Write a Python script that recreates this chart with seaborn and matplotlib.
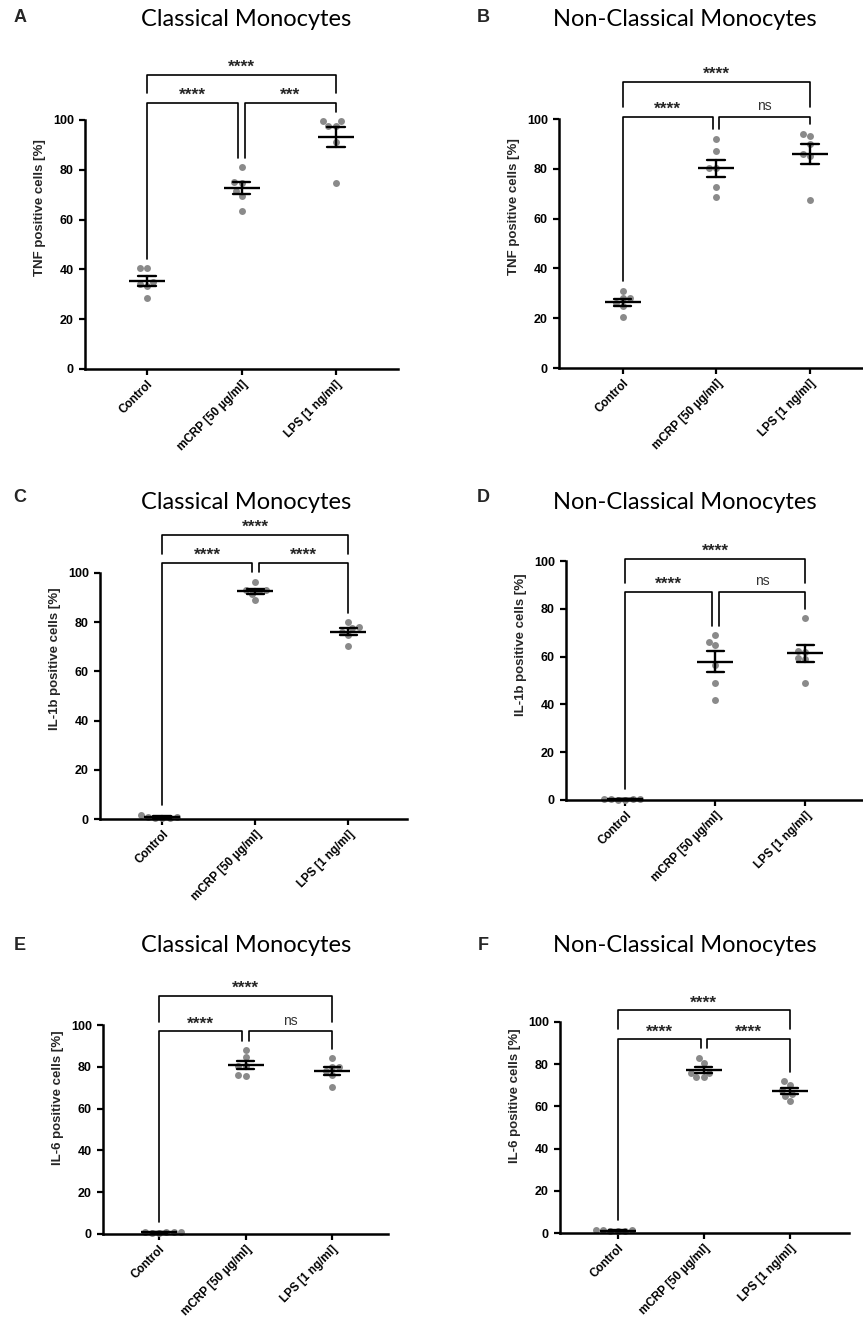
import matplotlib
matplotlib.use('Agg')
import matplotlib.pyplot as plt
import pandas as pd
import seaborn as sb
import numpy as np

groups = ['Control', 'mCRP [50 µg/ml]', 'LPS [1 ng/ml]']

# values (percent positive cells)
tnf_classical_control = [40.5, 40.5, 35.0, 34.0, 33.5, 28.5]
tnf_classical_mcrp = [81.0, 75.0, 74.5, 71.5, 69.5, 63.5]
tnf_classical_lps = [99.5, 97.5, 97.5, 99.5, 74.5, 91.0]

tnf_nonclassical_control = [31.0, 28.0, 28.0, 26.0, 25.0, 20.5]
tnf_nonclassical_mcrp = [92.0, 87.0, 80.5, 80.5, 72.5, 68.5]
tnf_nonclassical_lps = [93.0, 94.0, 90.0, 85.0, 86.0, 67.5]

il1b_classical_control = [0.3, 1.8, 0.5, 1.0, 0.8, 0.5]
il1b_classical_mcrp = [96.5, 93.0, 93.0, 92.5, 91.5, 89.0]
il1b_classical_lps = [80.0, 78.0, 77.5, 76.0, 75.0, 70.5]

il1b_nonclassical_control = [0.2, 0.5, 0.4, 0.6, 0.3, 0.2]
il1b_nonclassical_mcrp = [69.0, 66.0, 65.0, 56.5, 49.0, 42.0]
il1b_nonclassical_lps = [76.0, 62.5, 62.0, 59.0, 59.5, 49.0]

il6_classical_control = [0.3, 1.0, 0.8, 1.0, 0.6, 0.8]
il6_classical_mcrp = [88.0, 84.5, 80.5, 80.5, 76.0, 75.5]
il6_classical_lps = [84.0, 80.0, 80.0, 78.0, 76.0, 70.5]

il6_nonclassical_control = [0.8, 1.5, 1.2, 1.3, 0.8, 1.0]
il6_nonclassical_mcrp = [83.0, 80.5, 76.0, 74.0, 74.0, 76.0]
il6_nonclassical_lps = [72.0, 70.0, 68.0, 66.0, 65.0, 62.5]

# significance: Control vs mCRP, mCRP vs LPS, Control vs LPS
sig_A = ['****', '***', '****']
sig_B = ['****', 'ns', '****']
sig_C = ['****', '****', '****']
sig_D = ['****', 'ns', '****']
sig_E = ['****', 'ns', '****']
sig_F = ['****', '****', '****']

panels = [
    ('A', 'Classical Monocytes', 'TNF positive cells [%]',
     [tnf_classical_control, tnf_classical_mcrp, tnf_classical_lps], sig_A),
    ('B', 'Non-Classical Monocytes', 'TNF positive cells [%]',
     [tnf_nonclassical_control, tnf_nonclassical_mcrp, tnf_nonclassical_lps], sig_B),
    ('C', 'Classical Monocytes', 'IL-1b positive cells [%]',
     [il1b_classical_control, il1b_classical_mcrp, il1b_classical_lps], sig_C),
    ('D', 'Non-Classical Monocytes', 'IL-1b positive cells [%]',
     [il1b_nonclassical_control, il1b_nonclassical_mcrp, il1b_nonclassical_lps], sig_D),
    ('E', 'Classical Monocytes', 'IL-6 positive cells [%]',
     [il6_classical_control, il6_classical_mcrp, il6_classical_lps], sig_E),
    ('F', 'Non-Classical Monocytes', 'IL-6 positive cells [%]',
     [il6_nonclassical_control, il6_nonclassical_mcrp, il6_nonclassical_lps], sig_F),
]

# layout in pixels: axis left, axis right, y of zero, px per unit, xlim,
# lower/upper bracket heights, title centre x/y, letter x/y
W, H = 863, 1319
layouts = [
    dict(x0=85, x1=398, y0=369, ppu=2.49, xlim=(-0.66, 2.66), br=(107, 118), tx=246, ty=20, lx=20, ly=17),
    dict(x0=559, x1=863, y0=368, ppu=2.49, xlim=(-0.68, 2.57), br=(101, 115), tx=685, ty=20, lx=483, ly=17),
    dict(x0=100, x1=407, y0=819, ppu=2.46, xlim=(-0.67, 2.63), br=(104, 115.4), tx=246, ty=502, lx=20, ly=497),
    dict(x0=566, x1=863, y0=800, ppu=2.39, xlim=(-0.66, 2.64), br=(87, 101), tx=685, ty=502, lx=483, ly=497),
    dict(x0=103, x1=388, y0=1234, ppu=2.09, xlim=(-0.65, 2.65), br=(97, 114), tx=246, ty=945, lx=20, ly=945),
    dict(x0=560, x1=849, y0=1233, ppu=2.11, xlim=(-0.67, 2.69), br=(92, 105.7), tx=685, ty=945, lx=483, ly=945),
]

sb.set_style('white')
plt.rcParams['font.family'] = ['Liberation Sans', 'DejaVu Sans']
plt.rcParams['font.weight'] = 'bold'

YTOP = 130
fig = plt.figure(figsize=(W / 100, H / 100), dpi=100)


def bracket(ax, x1, x2, y, b1, b2, label):
    ax.plot([x1, x1, x2, x2], [b1, y, y, b2], color='black', lw=1.2, clip_on=False)
    if label == 'ns':
        ax.text((x1 + x2) / 2, y + 2.8, label, ha='center', va='baseline',
                fontsize=10, fontweight='normal', color='#333333')
    else:
        ax.text((x1 + x2) / 2, y + 1.2, label, ha='center', va='baseline',
                fontsize=12.5, fontweight='bold')


for (letter, title, ylabel, values, sig), lay in zip(panels, layouts):
    rect = [lay['x0'] / W, 1 - lay['y0'] / H,
            (lay['x1'] - lay['x0']) / W, YTOP * lay['ppu'] / H]
    ax = fig.add_axes(rect)
    df = pd.DataFrame({'group': np.repeat(groups, [len(v) for v in values]),
                       'value': np.concatenate(values)})

    sb.swarmplot(data=df, x='group', y='value', order=groups, color='#8a8a8a',
                 size=5, ax=ax, zorder=1)
    sb.pointplot(data=df, x='group', y='value', order=groups, errorbar='se',
                 color='black', linestyle='none', marker='_', markersize=26,
                 markeredgewidth=1.7, capsize=0.19, err_kws={'linewidth': 1.7},
                 ax=ax, zorder=3)
    for c in ax.collections:
        c.set_clip_on(False)
    for ln in ax.lines:
        ln.set_clip_on(False)

    ax.set_xlim(*lay['xlim'])
    ax.set_ylim(0, YTOP)
    ax.set_yticks(range(0, 101, 20))
    ax.set_xticks(range(3))
    ax.set_xticklabels(groups, rotation=45, ha='right', va='top', rotation_mode='anchor')
    ax.set_xlabel('')
    ax.set_ylabel(ylabel, fontsize=9.5, fontweight='bold', labelpad=5)
    ax.tick_params(axis='both', direction='out', length=4.5, width=1.6,
                   labelsize=9, colors='black', bottom=True, left=True)
    ax.tick_params(axis='x', labelsize=8.5, pad=2)
    for s in ['top', 'right']:
        ax.spines[s].set_visible(False)
    for s in ['left', 'bottom']:
        ax.spines[s].set_linewidth(1.8)
        ax.spines[s].set_color('black')
    ax.spines['left'].set_bounds(0, 100)
    ax.patch.set_alpha(0)

    # significance brackets
    gap = 9.5 / lay['ppu']
    tops = [max(v) + gap for v in values]
    lo, hi = lay['br']
    bracket(ax, 0, 1 - 0.035, lo, tops[0], tops[1], sig[0])
    bracket(ax, 1 + 0.035, 2, lo, tops[1], tops[2], sig[1])
    bracket(ax, 0, 2, hi, lo + gap, lo + gap, sig[2])

    fig.text(lay['tx'] / W, 1 - lay['ty'] / H, title, ha='center', va='center',
             fontsize=17, fontweight='normal', color='black', family=['Lato', 'DejaVu Sans'])
    fig.text(lay['lx'] / W, 1 - lay['ly'] / H, letter, ha='center', va='center',
             fontsize=13, fontweight='bold')

fig.savefig('out.png', dpi=100)
